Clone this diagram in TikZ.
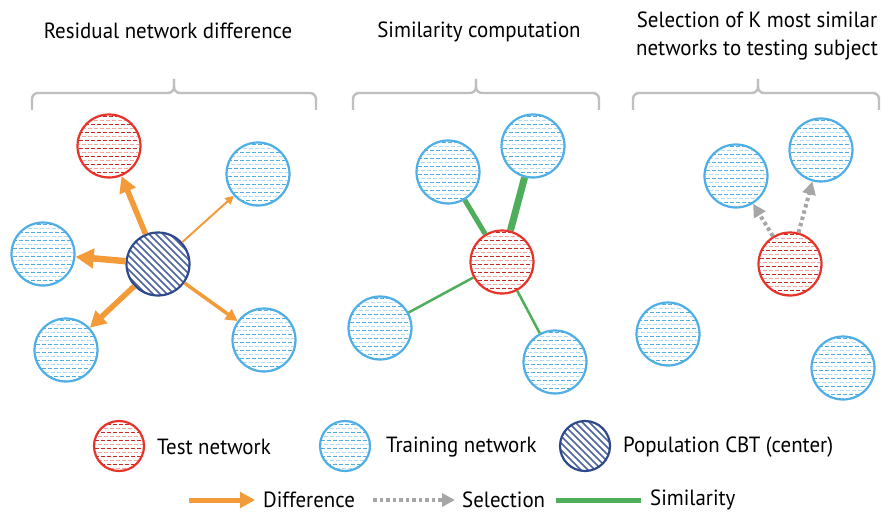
\documentclass[tikz,border=0pt]{standalone}
\usepackage{fontspec}
\setmainfont{PT Sans}[FakeStretch=0.95]
\usetikzlibrary{arrows.meta}

\definecolor{testred}{HTML}{E8332A}
\definecolor{trainblue}{HTML}{4FAEE6}
\definecolor{cbtblue}{HTML}{2E4A8C}
\definecolor{diffor}{HTML}{F29B38}
\definecolor{simgreen}{HTML}{4FAE5C}
\definecolor{selgray}{HTML}{A6A6A6}
\definecolor{bracegray}{HTML}{BFBFBF}

\begin{document}
\begin{tikzpicture}[x=1pt, y=-1pt,
		font=\fontsize{22}{28}\selectfont,
		net/.style={circle, inner sep=0pt, minimum size=63pt, line width=2.2pt},
		dashfill/.style 2 args={path picture={
			\foreach \k in {-30,-22,...,30}
				\draw[draw=#1, line width=1.2pt, dash pattern=on 4pt off 2pt] ([shift={(-36,\k+0.5)}]path picture bounding box.center) -- ++(72,0);
			\foreach \k in {-26,-18,...,30}
				\draw[draw=#2, line width=1.2pt, dash pattern=on 4pt off 2pt, dash phase=3pt] ([shift={(-36,\k+0.5)}]path picture bounding box.center) -- ++(72,0);
		}},
		test/.style={net, draw=testred, dashfill={testred!85!black}{testred!45}},
		train/.style={net, draw=trainblue, dashfill={trainblue}{trainblue!45}},
		cbt/.style={net, draw=cbtblue, path picture={
			\foreach \k in {-70,-63,...,70}
				\draw[draw=cbtblue!85, line width=1.7pt] ([shift={(\k-40,-40)}]path picture bounding box.center) -- ++(80,80);
		}},
		legnet/.style={minimum size=50pt},
		diff/.style={draw=diffor, line width=#1, -{Triangle[length=4pt 2.2, width=4pt 2.3]}},
		sim/.style={draw=simgreen, line width=#1},
		sel/.style={draw=selgray, line width=4pt, dash pattern=on 3.5pt off 3pt, -{Triangle[length=13pt, width=13pt]}},
		bracket/.style={draw=bracegray, line width=2.4pt, rounded corners=6pt},
		lbl/.style={anchor=west, inner sep=0pt}]

	\useasboundingbox (0,0) rectangle (881,516);

	\node (title1) at (168,31) {Residual network difference};
	\node (title2) at (479,32) {Similarity computation};
	\node[align=center] (title3) at (757,36) {Selection of K most similar\\networks to testing subject};

	\draw[bracket] (32,110) -- (32,93) -- (174,93) -- (174,79);
	\draw[bracket] (316,110) -- (316,93) -- (174,93) -- (174,79);
	\draw[bracket] (353,110) -- (353,93) -- (476,93) -- (476,79);
	\draw[bracket] (599,110) -- (599,93) -- (476,93) -- (476,79);
	\draw[bracket] (633,110) -- (633,93) -- (758,93) -- (758,79);
	\draw[bracket] (879,110) -- (879,93) -- (758,93) -- (758,79);

	\node[cbt] (cbt) at (158,264) {};
	\node[test] (test1) at (109,146) {};
	\node[train] (tr1a) at (258,174) {};
	\node[train] (tr1b) at (43,254) {};
	\node[train] (tr1c) at (66,350) {};
	\node[train] (tr1d) at (264,340) {};
	\draw[diff=5.5pt] (cbt) -- (test1);
	\draw[diff=2pt] (cbt) -- (tr1a);
	\draw[diff=6.5pt] (cbt) -- (tr1b);
	\draw[diff=5.5pt] (cbt) -- (tr1c);
	\draw[diff=3.5pt] (cbt) -- (tr1d);

	\node[test] (test2) at (502,262) {};
	\node[train] (tr2a) at (448,172) {};
	\node[train] (tr2b) at (533,146) {};
	\node[train] (tr2c) at (380,328) {};
	\node[train] (tr2d) at (555,362) {};
	\draw[sim=5pt] (test2) -- (tr2a);
	\draw[sim=7pt] (test2) -- (tr2b);
	\draw[sim=2.5pt] (test2) -- (tr2c);
	\draw[sim=2.5pt] (test2) -- (tr2d);

	\node[test] (test3) at (790,264) {};
	\node[train] (tr3a) at (736,176) {};
	\node[train] (tr3b) at (821,150) {};
	\node[train] (tr3c) at (668,334) {};
	\node[train] (tr3d) at (843,368) {};
	\draw[sel] (test3) -- (tr3a);
	\draw[sel] (test3) -- (tr3b);

	\node[test, legnet] (legtest) at (119,446) {};
	\node[lbl] (legtestlbl) at (157,447) {Test network};
	\node[train, legnet] (legtrain) at (345,446) {};
	\node[lbl] (legtrainlbl) at (386,447) {Training network};
	\node[cbt, legnet] (legcbt) at (585,446) {};
	\node[lbl] (legcbtlbl) at (623,447) {Population CBT (center)};

	\coordinate (diffstart) at (189,500);
	\node[lbl] (difflbl) at (263,500) {Difference};
	\draw[diff=5pt, shorten >=8pt] (diffstart) -- (difflbl.west);
	\coordinate (selstart) at (373,500);
	\node[lbl] (sellbl) at (462,500) {Selection};
	\draw[sel, shorten >=7pt] (selstart) -- (sellbl.west);
	\coordinate (simstart) at (556,500);
	\node[lbl] (simlbl) at (650,500) {Similarity};
	\draw[sim=5pt, shorten >=9pt] (simstart) -- (simlbl.west);

\end{tikzpicture}
\end{document}
